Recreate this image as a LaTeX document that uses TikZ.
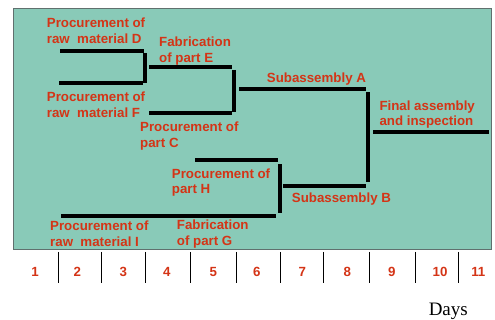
\documentclass[tikz,border=0pt]{standalone}
\usepackage{fontspec}
\setmainfont{Liberation Serif}
\newfontfamily\lsans{Liberation Sans}
\definecolor{panelgreen}{RGB}{137,202,184}
\definecolor{paneledge}{RGB}{96,112,110}
\definecolor{labelred}{RGB}{212,52,22}
\tikzset{
  lbl/.style={font=\lsans\bfseries\fontsize{13.3}{15.8}\selectfont, text=labelred,
              align=left, inner sep=0pt, anchor=base west},
  daynum/.style={font=\lsans\bfseries\fontsize{13.3}{16}\selectfont, text=labelred,
                 inner sep=0pt, anchor=base},
  bar/.style={line width=3.8pt},
  tick/.style={line width=1pt}
}
\begin{document}
\begin{tikzpicture}[x=1pt,y=-1pt]
\useasboundingbox (0,0) rectangle (495,320);
% panel
\draw[paneledge, fill=panelgreen, line width=1pt] (13,9) rectangle (491.5,250);

% activity bars
\draw[bar] (60,50.7) -- (143.5,50.7);      % D
\draw[bar] (59,83.3) -- (142.5,83.3);      % F
\draw[bar] (145.3,53.5) -- (145.3,83.3);   % join D/F
\draw[bar] (149,66.7) -- (231.7,66.7);     % E
\draw[bar] (149,113.3) -- (231.7,113.3);   % C
\draw[bar] (234.2,70) -- (234.2,111.7);    % join E/C
\draw[bar] (239.3,88.7) -- (366,88.7);     % A
\draw[bar] (367.8,92.3) -- (367.8,181.7);  % join A/B
\draw[bar] (373.3,132) -- (489,132);       % final
\draw[bar] (195,160) -- (277.7,160);       % H
\draw[bar] (61,215.7) -- (275.7,215.7);    % I + G
\draw[bar] (280,164.3) -- (280,213.3);     % join H/G
\draw[bar] (283.3,185.7) -- (366,185.7);   % B

% activity labels (two-line labels sit on the baseline of their last line)
\node[lbl] (lD) at (46.7,43.5) {Procurement of\\raw\ \ material D};
\node[lbl] (lE) at (159,62.8) {Fabrication\\of part E};
\node[lbl] (lF) at (46.7,117.3) {Procurement of\\raw\ \ material F};
\node[lbl] (lC) at (140,147.3) {Procurement of\\part C};
\node[lbl] (lA) at (266.7,82.7) {Subassembly A};
\node[lbl] (lFin) at (379.3,126) {Final assembly\\and inspection};
\node[lbl] (lH) at (171.7,194) {Procurement of\\part H};
\node[lbl] (lB) at (291.7,202.7) {Subassembly B};
\node[lbl] (lI) at (50,246.7) {Procurement of\\raw\ \ material I};
\node[lbl] (lG) at (176.7,245.5) {Fabrication\\of part G};

% day axis
\foreach \x in {58.3,101.7,145.7,190.7,236.7,280.7,323.3,369.3,415.7,458.7}
  \draw[tick] (\x,252) -- (\x,283);
\foreach \n/\x in {1/35,2/77.3,3/123.3,4/166.7,5/213.3,6/256.7,7/302.3,8/347.3,9/391.7,10/440,11/478.3}
  \node[daynum] (d\n) at (\x,276.7) {\n};
\node[font=\fontsize{19}{22}\selectfont, inner sep=0pt, anchor=base] (days) at (448.3,315) {Days};
\end{tikzpicture}
\end{document}
